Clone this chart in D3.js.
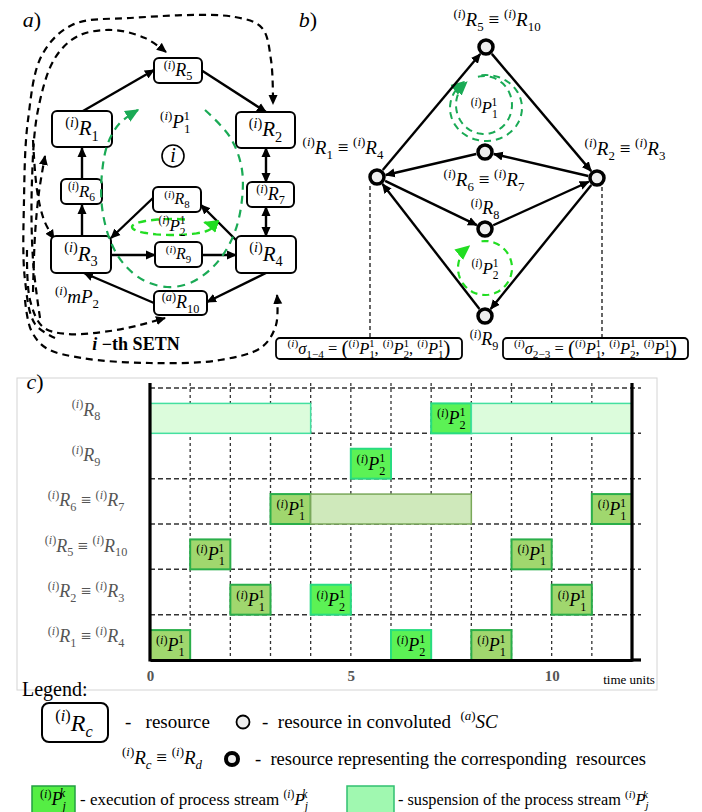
<!DOCTYPE html>
<html lang="en">
<head>
<meta charset="UTF-8">
<title>SETN schedule</title>
<script src="https://d3js.org/d3.v7.min.js"></script>
<style>
  body { margin: 0; background: #fff; }
  svg { display: block; }
  text { white-space: pre; }
</style>
</head>
<body>
<div id="fig"></div>
<script>
// ---- data for the Gantt part (c) ----
const rows = ["R8", "R9", "R67", "R510", "R23", "R14"];
const timeTicks = [0, 5, 10];
const timeMax = 12;
const tasks = [
  { row: "R8",   s: 0,  e: 4,  kind: "susp2" },
  { row: "R8",   s: 7,  e: 8,  kind: "exec2" },
  { row: "R8",   s: 8,  e: 12, kind: "susp2" },
  { row: "R9",   s: 5,  e: 6,  kind: "exec2" },
  { row: "R67",  s: 3,  e: 4,  kind: "exec1" },
  { row: "R67",  s: 4,  e: 8,  kind: "susp1" },
  { row: "R67",  s: 11, e: 12, kind: "exec1" },
  { row: "R510", s: 1,  e: 2,  kind: "exec1" },
  { row: "R510", s: 9,  e: 10, kind: "exec1" },
  { row: "R23",  s: 2,  e: 3,  kind: "exec1" },
  { row: "R23",  s: 4,  e: 5,  kind: "exec2" },
  { row: "R23",  s: 10, e: 11, kind: "exec1" },
  { row: "R14",  s: 0,  e: 1,  kind: "exec1" },
  { row: "R14",  s: 6,  e: 7,  kind: "exec2" },
  { row: "R14",  s: 8,  e: 9,  kind: "exec1" }
];

const SERIF = "'Liberation Serif', 'DejaVu Serif', serif";
const G1 = "#1aaa55", G2 = "#22dd22";
const SP = "\u00a0";

// math label helpers
const pre = c => [["pre", "("], ["prei", c], ["pre", ")"]];
const R = n => [...pre("i"), ["i", "R"], ["sub", n]];
const Ra = n => [...pre("a"), ["i", "R"], ["sub", n]];
const P = (sb, sp, it) => [...pre("i"), ["i", "P"], ["ss", sb, sp, it]];
const eq = (a, b) => [...a, ["r", " \u2261 "], ...b];

const rowLabel = {
  R8: R("8"), R9: R("9"), R67: eq(R("6"), R("7")),
  R510: eq(R("5"), R("10")), R23: eq(R("2"), R("3")), R14: eq(R("1"), R("4"))
};
const kindStyle = {
  exec1: { fill: "#a0d76e", stroke: "#2aae4a", w: 2,   label: P("1", "1") },
  exec2: { fill: "#5cf255", stroke: "#28dc80", w: 2,   label: P("2", "1") },
  susp1: { fill: "#cfe9bb", stroke: "#7aa85a", w: 1.5 },
  susp2: { fill: "#dcfcdc", stroke: "#44e0a0", w: 1.5 }
};

function mtext(g, x, y, parts, size, opt = {}) {
  const t = g.append("text").attr("x", x).attr("y", y)
    .attr("font-family", SERIF).attr("font-size", size)
    .attr("font-weight", opt.weight || "normal")
    .attr("text-anchor", opt.anchor || "middle").attr("fill", opt.fill || "#000");
  let cur = 0;
  const put = (txt, off, fs, style, dx) => {
    const s = t.append("tspan").attr("dy", off - cur).attr("font-size", fs)
      .attr("font-style", style).text(txt);
    if (dx) s.attr("dx", dx);
    cur = off;
  };
  const sm = 0.68 * size;
  parts.forEach(p => {
    const k = p[0];
    if (k === "pre") put(p[1], -0.4 * size, sm, "normal");
    else if (k === "prei") put(p[1], -0.4 * size, sm, "italic");
    else if (k === "i") put(p[1], 0, size, "italic");
    else if (k === "r") put(p[1], 0, size, "normal");
    else if (k === "big") put(p[1], 0.05 * size, 1.3 * size, "normal");
    else if (k === "sub") put(p[1], 0.25 * size, sm, "normal");
    else if (k === "subi") put(p[1], 0.25 * size, sm, "italic");
    else if (k === "ss") {
      const st = p[3] ? "italic" : "normal";
      put(p[1], 0.27 * size, sm, st);
      put(p[2], -0.44 * size, sm, st, -sm * 0.5 * p[1].length);
    }
  });
  return t;
}

const W = 702, H = 812;
const svg = d3.select("#fig").append("svg").attr("width", W).attr("height", H);
svg.append("rect").attr("width", W).attr("height", H).attr("fill", "#fff");

const defs = svg.append("defs");
function marker(id, color, size) {
  defs.append("marker").attr("id", id).attr("viewBox", "0 0 10 10")
    .attr("refX", 9).attr("refY", 5).attr("markerWidth", size).attr("markerHeight", size)
    .attr("markerUnits", "userSpaceOnUse").attr("orient", "auto-start-reverse")
    .append("path").attr("d", "M0,0.5 L10,5 L0,9.5 z").attr("fill", color);
}
marker("ab", "#000", 10);
marker("ag", G1, 14);
marker("ag2", G2, 15);

const curve = d3.line().curve(d3.curveCatmullRom.alpha(0.5));
function ellArc(cx, cy, rx, ry, a0, a1) {
  const pts = d3.range(0, 49).map(i => {
    const a = a0 + (a1 - a0) * i / 48;
    return [cx + rx * Math.cos(a), cy + ry * Math.sin(a)];
  });
  return d3.line()(pts);
}

// ================= part a =================
const ga = svg.append("g");
mtext(ga, 32, 27, [["i", "a"], ["r", ")"]], 22);

// dashed black loops of the i-th SETN
const loops = [
  [[55, 338], [35, 324], [25, 280], [24, 200], [28, 120], [42, 55], [72, 25], [130, 18], [235, 17], [262, 28], [271, 60], [273, 104]],
  [[40, 318], [33, 260], [32, 180], [38, 110], [55, 58], [78, 36], [112, 30], [145, 38], [166, 52]],
  [[33, 292], [35, 235], [39, 192], [45, 156]],
  [[33, 140], [37, 190], [44, 220], [54, 239]],
  [[27, 250], [30, 300], [43, 327], [67, 334], [110, 331], [140, 325], [165, 318]],
  [[25, 300], [31, 330], [46, 348], [82, 358], [150, 363], [220, 360], [262, 347], [276, 325], [277, 295]]
];
loops.forEach(pts => ga.append("path").attr("d", curve(pts)).attr("fill", "none")
  .attr("stroke", "#000").attr("stroke-width", 2.2).attr("stroke-dasharray", "7,5")
  .attr("marker-end", "url(#ab)"));

// solid edges between resources
const edgesA = [
  [[83, 111], [154, 70]], [[201, 70], [266, 112]], [[82, 179], [82, 148]], [[82, 236], [82, 205]],
  [[236, 240], [201, 205]], [[153, 198], [111, 238]], [[111, 255], [155, 255]], [[202, 255], [236, 255]],
  [[266, 273], [207, 302]], [[154, 303], [84, 273]]
];
edgesA.forEach(([a, b]) => ga.append("line").attr("x1", a[0]).attr("y1", a[1]).attr("x2", b[0]).attr("y2", b[1])
  .attr("stroke", "#000").attr("stroke-width", 2.4).attr("marker-end", "url(#ab)"));
[[[266, 148], [266, 182]], [[266, 207], [266, 236]]].forEach(([a, b]) =>
  ga.append("line").attr("x1", a[0]).attr("y1", a[1]).attr("x2", b[0]).attr("y2", b[1])
    .attr("stroke", "#000").attr("stroke-width", 2.4)
    .attr("marker-end", "url(#ab)").attr("marker-start", "url(#ab)"));

const boxesA = [
  { b: [154, 58, 48, 25], l: R("5"), fs: 18 },
  { b: [52, 111, 60, 36], l: R("1"), fs: 21 },
  { b: [236, 112, 59, 36], l: R("2"), fs: 21 },
  { b: [61, 179, 41, 25], l: R("6"), fs: 17 },
  { b: [247, 182, 47, 25], l: R("7"), fs: 18 },
  { b: [153, 187, 48, 25], l: R("8"), fs: 16 },
  { b: [51, 236, 60, 37], l: R("3"), fs: 21 },
  { b: [155, 242, 47, 25], l: R("9"), fs: 16 },
  { b: [236, 236, 60, 37], l: R("4"), fs: 21 },
  { b: [154, 291, 53, 24], l: Ra("10"), fs: 18 }
];
boxesA.forEach(d => {
  const [x, y, w, h] = d.b;
  ga.append("rect").attr("x", x).attr("y", y).attr("width", w).attr("height", h).attr("rx", 5)
    .attr("fill", "#fff").attr("stroke", "#000").attr("stroke-width", 2);
  mtext(ga, x + w / 2, y + h / 2 + d.fs * 0.3, d.l, d.fs);
});

// green stream loops (drawn over the boxes, as in the figure)
ga.append("path").attr("d", curve([[205, 110], [230, 137], [242, 170], [240, 213], [230, 243], [213, 267], [190, 283], [167, 287], [143, 280], [123, 263], [110, 240], [102, 207], [102, 173], [108, 143], [120, 123], [138, 110]]))
  .attr("fill", "none").attr("stroke", G1).attr("stroke-width", 2.2).attr("stroke-dasharray", "8,6")
  .attr("marker-end", "url(#ag)");
ga.append("path").attr("d", ellArc(172, 227, 40, 8, -0.69 + 2 * Math.PI - 0.55, -0.62))
  .attr("fill", "none").attr("stroke", G2).attr("stroke-width", 2.4).attr("stroke-dasharray", "8,5")
  .attr("marker-end", "url(#ag2)");

ga.append("circle").attr("cx", 173).attr("cy", 156).attr("r", 11).attr("fill", "#fff")
  .attr("stroke", "#000").attr("stroke-width", 1.6);
mtext(ga, 173, 162, [["i", "i"]], 20);
mtext(ga, 175, 128, P("1", "1"), 19);
mtext(ga, 172, 231, P("2", "1"), 17);
mtext(ga, 77, 303, [...pre("i"), ["i", "mP"], ["sub", "2"]], 19);
const setn = ga.append("text").attr("x", 136).attr("y", 350).attr("text-anchor", "middle")
  .attr("font-family", SERIF).attr("font-size", 18).attr("font-weight", "bold");
setn.append("tspan").attr("font-style", "italic").text("i");
setn.append("tspan").text(" \u2212th SETN");

// ================= part b =================
const gb = svg.append("g");
mtext(gb, 308, 27, [["i", "b"], ["r", ")"]], 22);
const nodes = {
  n5: [486, 47], n14: [377, 177], n23: [597, 178], n67: [485, 152], n8: [485, 229], n9: [485, 316]
};
const edgesB = [["n14", "n5"], ["n5", "n23"], ["n23", "n67"], ["n67", "n14"], ["n14", "n8"], ["n8", "n23"], ["n23", "n9"], ["n9", "n14"]];

// dashed drop lines to the sigma boxes
[[370, 186, 337], [602, 187, 337]].forEach(([x, y1, y2]) => gb.append("line")
  .attr("x1", x).attr("y1", y1).attr("x2", x).attr("y2", y2)
  .attr("stroke", "#000").attr("stroke-width", 1.2).attr("stroke-dasharray", "4,3"));

// green loops
gb.append("path").attr("d", ellArc(484, 105, 28, 29, -2.19 + 0.4, -2.19 + 2 * Math.PI - 0.05))
  .attr("fill", "none").attr("stroke", G1).attr("stroke-width", 2).attr("stroke-dasharray", "7,5")
  .attr("marker-end", "url(#ag)");
gb.append("path").attr("d", ellArc(486, 108, 36, 33, -2.15 + 0.45, -2.15 + 2 * Math.PI - 0.08))
  .attr("fill", "none").attr("stroke", G1).attr("stroke-width", 2).attr("stroke-dasharray", "7,5")
  .attr("marker-end", "url(#ag)");
gb.append("path").attr("d", ellArc(485, 268, 27, 27, -2.2 - 2 * Math.PI + 0.5, -2.2))
  .attr("fill", "none").attr("stroke", G2).attr("stroke-width", 2.2).attr("stroke-dasharray", "7,5")
  .attr("marker-end", "url(#ag2)");

edgesB.forEach(([a, b]) => {
  const [x1, y1] = nodes[a], [x2, y2] = nodes[b];
  const dx = x2 - x1, dy = y2 - y1, L = Math.hypot(dx, dy), ux = dx / L, uy = dy / L;
  gb.append("line").attr("x1", x1 + ux * 9).attr("y1", y1 + uy * 9)
    .attr("x2", x2 - ux * 9).attr("y2", y2 - uy * 9)
    .attr("stroke", "#000").attr("stroke-width", 2.4).attr("marker-end", "url(#ab)");
});
Object.values(nodes).forEach(([x, y]) => gb.append("circle").attr("cx", x).attr("cy", y).attr("r", 7)
  .attr("fill", "#eee").attr("stroke", "#000").attr("stroke-width", 3.5));

mtext(gb, 497, 26, eq(R("5"), R("10")), 19);
mtext(gb, 343, 154, eq(R("1"), R("4")), 19);
mtext(gb, 625, 155, eq(R("2"), R("3")), 19);
mtext(gb, 484, 186, eq(R("6"), R("7")), 19);
mtext(gb, 485, 214, R("8"), 18);
mtext(gb, 484, 345, R("9"), 18);
mtext(gb, 484, 113, P("1", "1"), 17);
mtext(gb, 485, 274, P("2", "1"), 17);

const sigma = sub => [...pre("i"), ["i", "\u03c3"], ["sub", sub], ["r", " = "], ["big", "("],
  ...P("1", "1"), ["r", ", "], ...P("2", "1"), ["r", ", "], ...P("1", "1"), ["big", ")"]];
[[276, 462, "1\u22124"], [503, 688, "2\u22123"]].forEach(([x1, x2, s]) => {
  gb.append("rect").attr("x", x1).attr("y", 338).attr("width", x2 - x1).attr("height", 21).attr("rx", 4)
    .attr("fill", "#fff").attr("stroke", "#000").attr("stroke-width", 1.8);
  mtext(gb, (x1 + x2) / 2, 354, sigma(s), 16.5);
});

// ================= part c =================
const gc = svg.append("g");
gc.append("rect").attr("x", 17).attr("y", 378).attr("width", 640).attr("height", 312)
  .attr("fill", "none").attr("stroke", "#d4d4d4").attr("stroke-width", 1);
mtext(gc, 35, 389, [["i", "c"], ["r", ")"]], 22);

const x = d3.scaleLinear().domain([0, timeMax]).range([150, 632]);
const y = d3.scaleBand().domain(rows).range([388, 660]);
const bh = y.bandwidth() * 0.66;

// grid
gc.append("g").selectAll("line").data(d3.range(1, timeMax)).join("line")
  .attr("x1", d => x(d)).attr("x2", d => x(d)).attr("y1", 383).attr("y2", 660)
  .attr("stroke", "#333").attr("stroke-width", 1.3).attr("stroke-dasharray", "3,3");
gc.append("g").selectAll("line").data(rows).join("line")
  .attr("x1", x(0)).attr("x2", 641).attr("y1", d => y(d)).attr("y2", d => y(d))
  .attr("stroke", "#333").attr("stroke-width", 1.5).attr("stroke-dasharray", "5,3");

// bars
tasks.forEach(d => {
  const st = kindStyle[d.kind];
  const y0 = y(d.row) + y.bandwidth() - bh;
  gc.append("rect").attr("x", x(d.s)).attr("y", y0).attr("width", x(d.e) - x(d.s)).attr("height", bh)
    .attr("fill", st.fill).attr("stroke", st.stroke).attr("stroke-width", st.w);
  if (st.label) mtext(gc, (x(d.s) + x(d.e)) / 2, y0 + bh / 2 + 6, st.label, 18);
});

// axes
const xAxis = gc.append("g").attr("transform", `translate(0,660)`)
  .call(d3.axisBottom(x).tickValues(timeTicks).tickSize(0).tickPadding(10).tickSizeOuter(0));
xAxis.select(".domain").attr("stroke", "#000").attr("stroke-width", 3.2);
xAxis.selectAll("text").attr("font-family", SERIF).attr("font-size", 15)
  .attr("font-weight", "bold").attr("fill", "#555");
gc.append("line").attr("x1", x(timeMax)).attr("x2", 641).attr("y1", 660).attr("y2", 660)
  .attr("stroke", "#000").attr("stroke-width", 3.2);
const yAxis = gc.append("g").attr("transform", `translate(${x(0)},0)`)
  .call(d3.axisLeft(y).tickSize(0).tickFormat(() => ""));
yAxis.select(".domain").attr("stroke", "#000").attr("stroke-width", 3.2).attr("d", "M0,383V661.5");
gc.append("line").attr("x1", x(timeMax)).attr("x2", x(timeMax)).attr("y1", 383).attr("y2", 661.5)
  .attr("stroke", "#000").attr("stroke-width", 3.2);

rows.forEach(r => mtext(gc, 86, y(r) + y.bandwidth() / 2 + 5, rowLabel[r], 18, { fill: "#555" }));
gc.append("text").attr("x", 629).attr("y", 684).attr("text-anchor", "middle")
  .attr("font-family", SERIF).attr("font-size", 13).text("time units");

// ================= legend =================
const gl = svg.append("g");
gl.append("text").attr("x", 22).attr("y", 696).attr("font-family", SERIF).attr("font-size", 20).text("Legend:");
gl.append("rect").attr("x", 42).attr("y", 703).attr("width", 66).attr("height", 39).attr("rx", 7)
  .attr("fill", "#fff").attr("stroke", "#000").attr("stroke-width", 2);
mtext(gl, 74, 731, [...pre("i"), ["i", "R"], ["subi", "c"]], 24);
mtext(gl, 125, 728, [["r", "-" + SP + SP + SP + "resource"]], 19, { anchor: "start" });
gl.append("circle").attr("cx", 243).attr("cy", 722).attr("r", 6.5).attr("fill", "#eee")
  .attr("stroke", "#000").attr("stroke-width", 1.8);
mtext(gl, 262, 728, [["r", "-" + SP + SP + "resource in convoluted" + SP + SP], ...pre("a"), ["i", "SC"]], 19, { anchor: "start" });
mtext(gl, 162, 764, [...pre("i"), ["i", "R"], ["subi", "c"], ["r", " \u2261 "], ...pre("i"), ["i", "R"], ["subi", "d"]], 19);
gl.append("circle").attr("cx", 232).attr("cy", 759).attr("r", 6).attr("fill", "#eee")
  .attr("stroke", "#000").attr("stroke-width", 4);
mtext(gl, 255, 765, [["r", "-" + SP + SP + "resource representing the corresponding" + SP + SP + "resources"]], 18.5, { anchor: "start" });

gl.append("rect").attr("x", 32).attr("y", 786).attr("width", 43).attr("height", 28)
  .attr("fill", "#55ee44").attr("stroke", "#22a040").attr("stroke-width", 1.5);
mtext(gl, 53, 805, P("j", "k", true), 18);
mtext(gl, 80, 805, [["r", "- execution of process stream "], ...P("j", "k", true)], 17, { anchor: "start" });
gl.append("rect").attr("x", 347).attr("y", 786).attr("width", 47).attr("height", 28)
  .attr("fill", "#a0f8b0").attr("stroke", "#30c070").attr("stroke-width", 1.5);
mtext(gl, 398, 805, [["r", "- suspension of the process stream "], ...P("j", "k", true)], 16.3, { anchor: "start" });
</script>
</body>
</html>
